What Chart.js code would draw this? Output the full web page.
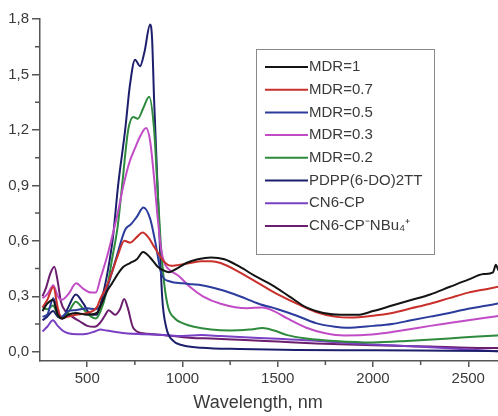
<!DOCTYPE html>
<html>
<head>
<meta charset="utf-8">
<script src="https://cdn.jsdelivr.net/npm/chart.js@4.4.1/dist/chart.umd.min.js"></script>
<style>
  html, body { margin: 0; padding: 0; background: #fff; overflow: hidden; }
</style>
</head>
<body>
<canvas id="chart" width="498" height="416"></canvas>
<script>
// absorbance spectra (wavelength in nm)
const mdr1Wl  = [265, 290, 320, 345, 370, 400, 440, 500, 550, 575, 600, 630, 660, 690, 725, 760, 793, 830, 870, 900, 930, 970, 1020, 1080, 1150, 1220, 1300, 1380, 1470, 1560, 1650, 1740, 1830, 1920, 2000, 2100, 2200, 2300, 2400, 2500, 2580, 2630, 2645, 2660, 2700]
const mdr1Abs = [0.22, 0.26, 0.28, 0.2, 0.18, 0.2, 0.21, 0.2, 0.21, 0.26, 0.32, 0.37, 0.42, 0.46, 0.48, 0.5, 0.54, 0.51, 0.46, 0.44, 0.43, 0.45, 0.48, 0.5, 0.51, 0.5, 0.46, 0.41, 0.36, 0.3, 0.24, 0.21, 0.2, 0.2, 0.22, 0.25, 0.28, 0.31, 0.35, 0.39, 0.42, 0.43, 0.47, 0.44, 0.46]

const mdr07Wl  = [265, 290, 322, 345, 365, 400, 440, 500, 550, 570, 600, 630, 660, 695, 725, 760, 790, 820, 850, 880, 910, 940, 980, 1040, 1100, 1150, 1200, 1300, 1400, 1500, 1600, 1700, 1800, 1880, 2000, 2100, 2200, 2300, 2400, 2500, 2600, 2700]
const mdr07Abs = [0.24, 0.28, 0.35, 0.24, 0.18, 0.19, 0.2, 0.21, 0.24, 0.29, 0.35, 0.43, 0.52, 0.6, 0.59, 0.62, 0.645, 0.62, 0.57, 0.52, 0.48, 0.465, 0.47, 0.48, 0.49, 0.49, 0.48, 0.43, 0.37, 0.31, 0.26, 0.215, 0.19, 0.185, 0.195, 0.21, 0.235, 0.26, 0.29, 0.32, 0.34, 0.36]

const mdr05Wl  = [265, 290, 322, 345, 365, 400, 440, 500, 540, 570, 600, 650, 699, 730, 760, 795, 830, 856, 890, 935, 1000, 1050, 1100, 1200, 1300, 1400, 1500, 1600, 1700, 1800, 1860, 2000, 2100, 2200, 2300, 2400, 2500, 2600, 2700]
const mdr05Abs = [0.19, 0.2, 0.29, 0.22, 0.19, 0.22, 0.225, 0.235, 0.23, 0.25, 0.33, 0.5, 0.66, 0.69, 0.73, 0.78, 0.72, 0.6, 0.42, 0.38, 0.37, 0.365, 0.36, 0.335, 0.3, 0.26, 0.23, 0.195, 0.155, 0.135, 0.13, 0.14, 0.15, 0.17, 0.19, 0.21, 0.233, 0.25, 0.27]

const mdr03Wl  = [265, 290, 322, 345, 365, 400, 442, 480, 520, 545, 570, 600, 630, 660, 690, 720, 750, 780, 809, 830, 850, 870, 890, 910, 935, 980, 1040, 1107, 1200, 1340, 1420, 1480, 1550, 1650, 1750, 1850, 1950, 2050, 2150, 2300, 2400, 2500, 2600, 2700]
const mdr03Abs = [0.29, 0.31, 0.36, 0.3, 0.28, 0.31, 0.37, 0.34, 0.32, 0.32, 0.4, 0.5, 0.62, 0.75, 0.9, 1.02, 1.1, 1.17, 1.21, 1.14, 0.95, 0.72, 0.54, 0.47, 0.44, 0.41, 0.35, 0.3, 0.26, 0.235, 0.24, 0.22, 0.18, 0.13, 0.1, 0.088, 0.09, 0.1, 0.115, 0.14, 0.155, 0.17, 0.185, 0.2]

const mdr02Wl  = [265, 290, 320, 345, 370, 405, 440, 480, 520, 545, 570, 600, 630, 660, 683, 715, 742, 765, 795, 825, 851, 868, 885, 905, 925, 960, 1000, 1060, 1150, 1250, 1350, 1420, 1480, 1550, 1650, 1800, 2000, 2200, 2400, 2550, 2700]
const mdr02Abs = [0.24, 0.23, 0.25, 0.2, 0.18, 0.22, 0.27, 0.23, 0.19, 0.18, 0.22, 0.32, 0.5, 0.68, 0.9, 1.2, 1.27, 1.26, 1.32, 1.38, 1.2, 0.9, 0.6, 0.36, 0.24, 0.18, 0.155, 0.135, 0.12, 0.115, 0.12, 0.128, 0.115, 0.09, 0.072, 0.058, 0.05, 0.06, 0.072, 0.082, 0.09]

const pdppWl  = [265, 290, 320, 345, 370, 400, 440, 480, 520, 550, 580, 610, 635, 662, 699, 725, 751, 777, 800, 830, 840, 851, 872, 893, 915, 950, 1000, 1100, 1300, 1600, 2000, 2400, 2700]
const pdppAbs = [0.17, 0.19, 0.22, 0.19, 0.18, 0.24, 0.31, 0.26, 0.2, 0.2, 0.3, 0.45, 0.62, 0.9, 1.2, 1.45, 1.58, 1.545, 1.62, 1.77, 1.7, 1.36, 0.82, 0.3, 0.13, 0.06, 0.035, 0.022, 0.015, 0.01, 0.008, 0.005, 0.003]

const cpWl  = [265, 290, 320, 345, 370, 400, 450, 500, 540, 570, 600, 700, 800, 900, 1000, 1100, 1200, 1300, 1500, 1700, 1900, 2100, 2300, 2500, 2700]
const cpAbs = [0.11, 0.135, 0.17, 0.14, 0.115, 0.1, 0.095, 0.098, 0.11, 0.12, 0.115, 0.1, 0.095, 0.09, 0.085, 0.09, 0.085, 0.08, 0.07, 0.06, 0.045, 0.035, 0.025, 0.012, 0.0]

const cpSaltWl  = [265, 285, 305, 327, 345, 362, 385, 420, 460, 500, 540, 570, 595, 612, 647, 672, 694, 712, 741, 793, 850, 950, 1050, 1150, 1300, 1500, 1700, 2000, 2300, 2500, 2700]
const cpSaltAbs = [0.3, 0.35, 0.42, 0.46, 0.38, 0.27, 0.22, 0.19, 0.165, 0.14, 0.135, 0.16, 0.2, 0.225, 0.2, 0.23, 0.285, 0.24, 0.13, 0.1, 0.095, 0.085, 0.075, 0.072, 0.065, 0.055, 0.045, 0.035, 0.028, 0.022, 0.02]

const seriesLabels = ['MDR=1', 'MDR=0.7', 'MDR=0.5', 'MDR=0.3', 'MDR=0.2', 'PDPP(6-DO)2TT', 'CN6-CP', 'CN6-CP\u207BNBu\u2084\u207A']
const seriesColors = ['#141414', '#c9302c', '#2b3c9c', '#c14cc6', '#2e8a3c', '#1d1f6c', '#7a40c4', '#6c1e6e']
const seriesWl  = [mdr1Wl, mdr07Wl, mdr05Wl, mdr03Wl, mdr02Wl, pdppWl, cpWl, cpSaltWl]
const seriesAbs = [mdr1Abs, mdr07Abs, mdr05Abs, mdr03Abs, mdr02Abs, pdppAbs, cpAbs, cpSaltAbs]

const xLabelEvery = 500
const yLabelEvery = 0.3
const axisTitle = 'Wavelength, nm'

const FONT = "'Liberation Sans', Arial, sans-serif"
const AXIS = '#555'
const TEXT = '#3a3a3a'

function isMajor(v, step){
  const r = v / step
  return Math.abs(r - Math.round(r)) < 1e-6
}

const datasets = seriesLabels.map((label, i) => ({
  label: label,
  data: seriesWl[i].map((w, j) => ({x: w, y: seriesAbs[i][j]})),
  borderColor: seriesColors[i],
  backgroundColor: seriesColors[i],
  borderWidth: 2,
  pointRadius: 0,
  cubicInterpolationMode: 'monotone',
  fill: false
}))

// minor ticks, axis title and the boxed legend are drawn by hand
const decor = {
  id: 'decor',
  afterDatasetsDraw(chart){
    const ctx = chart.ctx
    ctx.save()
    const bx = 256, by = 49, bw = 178, bh = 205
    ctx.fillStyle = '#fff'
    ctx.fillRect(bx, by, bw, bh)
    ctx.strokeStyle = '#8a8a8a'
    ctx.lineWidth = 1
    ctx.strokeRect(bx + 0.5, by + 0.5, bw, bh)
    ctx.font = '15px ' + FONT
    ctx.textBaseline = 'middle'
    ctx.textAlign = 'left'
    seriesLabels.forEach((label, i) => {
      const ly = 67 + i * 22.7
      ctx.strokeStyle = seriesColors[i]
      ctx.lineWidth = 2
      ctx.beginPath()
      ctx.moveTo(265, ly)
      ctx.lineTo(308, ly)
      ctx.stroke()
      ctx.fillStyle = TEXT
      ctx.fillText(label, 309, ly)
    })
    ctx.restore()
  },
  afterDraw(chart){
    const ctx = chart.ctx
    const xs = chart.scales.x, ys = chart.scales.y
    ctx.save()
    ctx.strokeStyle = AXIS
    ctx.lineWidth = 1.5
    ctx.beginPath()
    xs.ticks.forEach(t => {
      if (isMajor(t.value, xLabelEvery)) return
      const px = xs.getPixelForValue(t.value)
      ctx.moveTo(px, xs.top)
      ctx.lineTo(px, xs.top + 4)
    })
    ys.ticks.forEach(t => {
      if (isMajor(t.value, yLabelEvery)) return
      const py = ys.getPixelForValue(t.value)
      ctx.moveTo(ys.right, py)
      ctx.lineTo(ys.right - 5, py)
    })
    ctx.stroke()
    ctx.fillStyle = TEXT
    ctx.font = '18px ' + FONT
    ctx.textAlign = 'center'
    ctx.textBaseline = 'middle'
    ctx.fillText(axisTitle, 258, 403)
    ctx.restore()
  }
}

new Chart(document.getElementById('chart'), {
  type: 'line',
  data: { datasets: datasets },
  options: {
    responsive: false,
    animation: false,
    layout: { padding: { left: 0, top: 19, right: 0, bottom: 0 } },
    plugins: {
      legend: { display: false },
      tooltip: { enabled: false }
    },
    scales: {
      x: {
        type: 'linear',
        min: 252,
        max: 2656,
        afterFit: s => { s.height = 55 },
        border: { color: AXIS, width: 1.5 },
        grid: {
          drawOnChartArea: false,
          tickLength: 6,
          lineWidth: 1.5,
          tickColor: c => isMajor(c.tick.value, xLabelEvery) ? AXIS : 'rgba(0,0,0,0)'
        },
        ticks: {
          stepSize: 250,
          includeBounds: false,
          autoSkip: false,
          maxRotation: 0,
          padding: 3,
          color: TEXT,
          font: { family: FONT, size: 15 },
          callback: v => isMajor(v, xLabelEvery) ? String(v) : ''
        }
      },
      y: {
        min: -0.05,
        max: 1.8,
        afterFit: s => { s.width = 40 },
        border: { color: AXIS, width: 1.5 },
        grid: {
          drawOnChartArea: false,
          tickLength: 8,
          lineWidth: 1.5,
          tickColor: c => isMajor(c.tick.value, yLabelEvery) ? AXIS : 'rgba(0,0,0,0)'
        },
        ticks: {
          stepSize: 0.15,
          includeBounds: false,
          autoSkip: false,
          padding: 3,
          color: TEXT,
          font: { family: FONT, size: 15 },
          callback: v => isMajor(v, yLabelEvery) ? v.toFixed(1).replace('.', ',') : ''
        }
      }
    }
  },
  plugins: [decor]
})
</script>
</body>
</html>
